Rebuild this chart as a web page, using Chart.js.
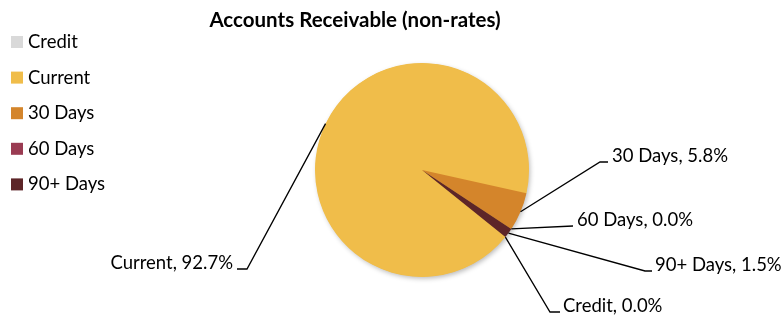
<!DOCTYPE html>
<html><head><meta charset="utf-8">
<script src="https://cdn.jsdelivr.net/npm/chart.js@4"></script>
<style>html,body{margin:0;padding:0;background:#fff}canvas{display:block}</style>
</head><body>
<canvas id="c" width="781" height="316"></canvas>
<script>
const categories = ['Credit', 'Current', '30 Days', '60 Days', '90+ Days'];
const shares = [0.0, 92.7, 5.8, 0.0, 1.5];
const chartTitle = 'Accounts Receivable (non-rates)';

const sliceColors = ['#D9D9D9', '#F0BD4A', '#D4852B', '#9A3B52', '#5D2528'];
const FONT = 'Lato, "Noto Sans", sans-serif';

// leader line layout per category: elbow point, horizontal end, text x, alignment
const labelLayout = [
  { ex: 550, ey: 312, hx: 560, tx: 563, align: 'left' },
  { ex: 247, ey: 269, hx: 237, tx: 233, align: 'right' },
  { ex: 600, ey: 162, hx: 608, tx: 612, align: 'left' },
  { ex: 573, ey: 226, hx: 573, tx: 577, align: 'left' },
  { ex: 645, ey: 271, hx: 652, tx: 655, align: 'left' }
];

const decorPlugin = {
  id: 'decor',
  beforeDatasetsDraw(chart) {
    const ctx = chart.ctx;
    const arc = chart.getDatasetMeta(0).data[0];
    ctx.save();
    ctx.shadowColor = 'rgba(0,0,0,0.28)';
    ctx.shadowBlur = 5;
    ctx.shadowOffsetX = 1.5;
    ctx.shadowOffsetY = 2;
    ctx.beginPath();
    ctx.arc(arc.x, arc.y, arc.outerRadius - 0.5, 0, Math.PI * 2);
    ctx.fillStyle = sliceColors[1];
    ctx.fill();
    ctx.restore();
  },
  afterDraw(chart) {
    const ctx = chart.ctx;
    const meta = chart.getDatasetMeta(0);
    ctx.save();
    // title
    ctx.fillStyle = '#000';
    ctx.font = 'bold 20.5px ' + FONT;
    ctx.textAlign = 'center';
    ctx.textBaseline = 'alphabetic';
    ctx.fillText(chartTitle, 355, 27);
    // legend
    ctx.font = '18.5px ' + FONT;
    ctx.textAlign = 'left';
    categories.forEach((c, i) => {
      const yb = 48 + i * 35.6;
      ctx.fillStyle = sliceColors[i];
      ctx.fillRect(11, yb - 12, 12, 12);
      ctx.fillStyle = '#000';
      ctx.fillText(c, 28, yb);
    });
    // data labels with leader lines
    ctx.strokeStyle = '#000';
    ctx.lineWidth = 1.3;
    meta.data.forEach((a, i) => {
      const mid = (a.startAngle + a.endAngle) / 2;
      const ax = a.x + Math.cos(mid) * a.outerRadius;
      const ay = a.y + Math.sin(mid) * a.outerRadius;
      const L = labelLayout[i];
      ctx.beginPath();
      ctx.moveTo(ax, ay);
      ctx.lineTo(L.ex, L.ey);
      ctx.lineTo(L.hx, L.ey);
      ctx.stroke();
      ctx.fillStyle = '#000';
      ctx.textAlign = L.align;
      ctx.fillText(categories[i] + ', ' + shares[i].toFixed(1) + '%', L.tx, L.ey);
    });
    ctx.restore();
  }
};

new Chart(document.getElementById('c'), {
  type: 'pie',
  data: {
    labels: categories,
    datasets: [{
      data: shares,
      backgroundColor: sliceColors,
      borderWidth: 0
    }]
  },
  options: {
    responsive: false,
    animation: false,
    rotation: 128.8,
    layout: { padding: { left: 315, right: 252, top: 63, bottom: 39 } },
    plugins: { legend: { display: false }, title: { display: false }, tooltip: { enabled: false } }
  },
  plugins: [decorPlugin]
});
</script>
</body></html>
